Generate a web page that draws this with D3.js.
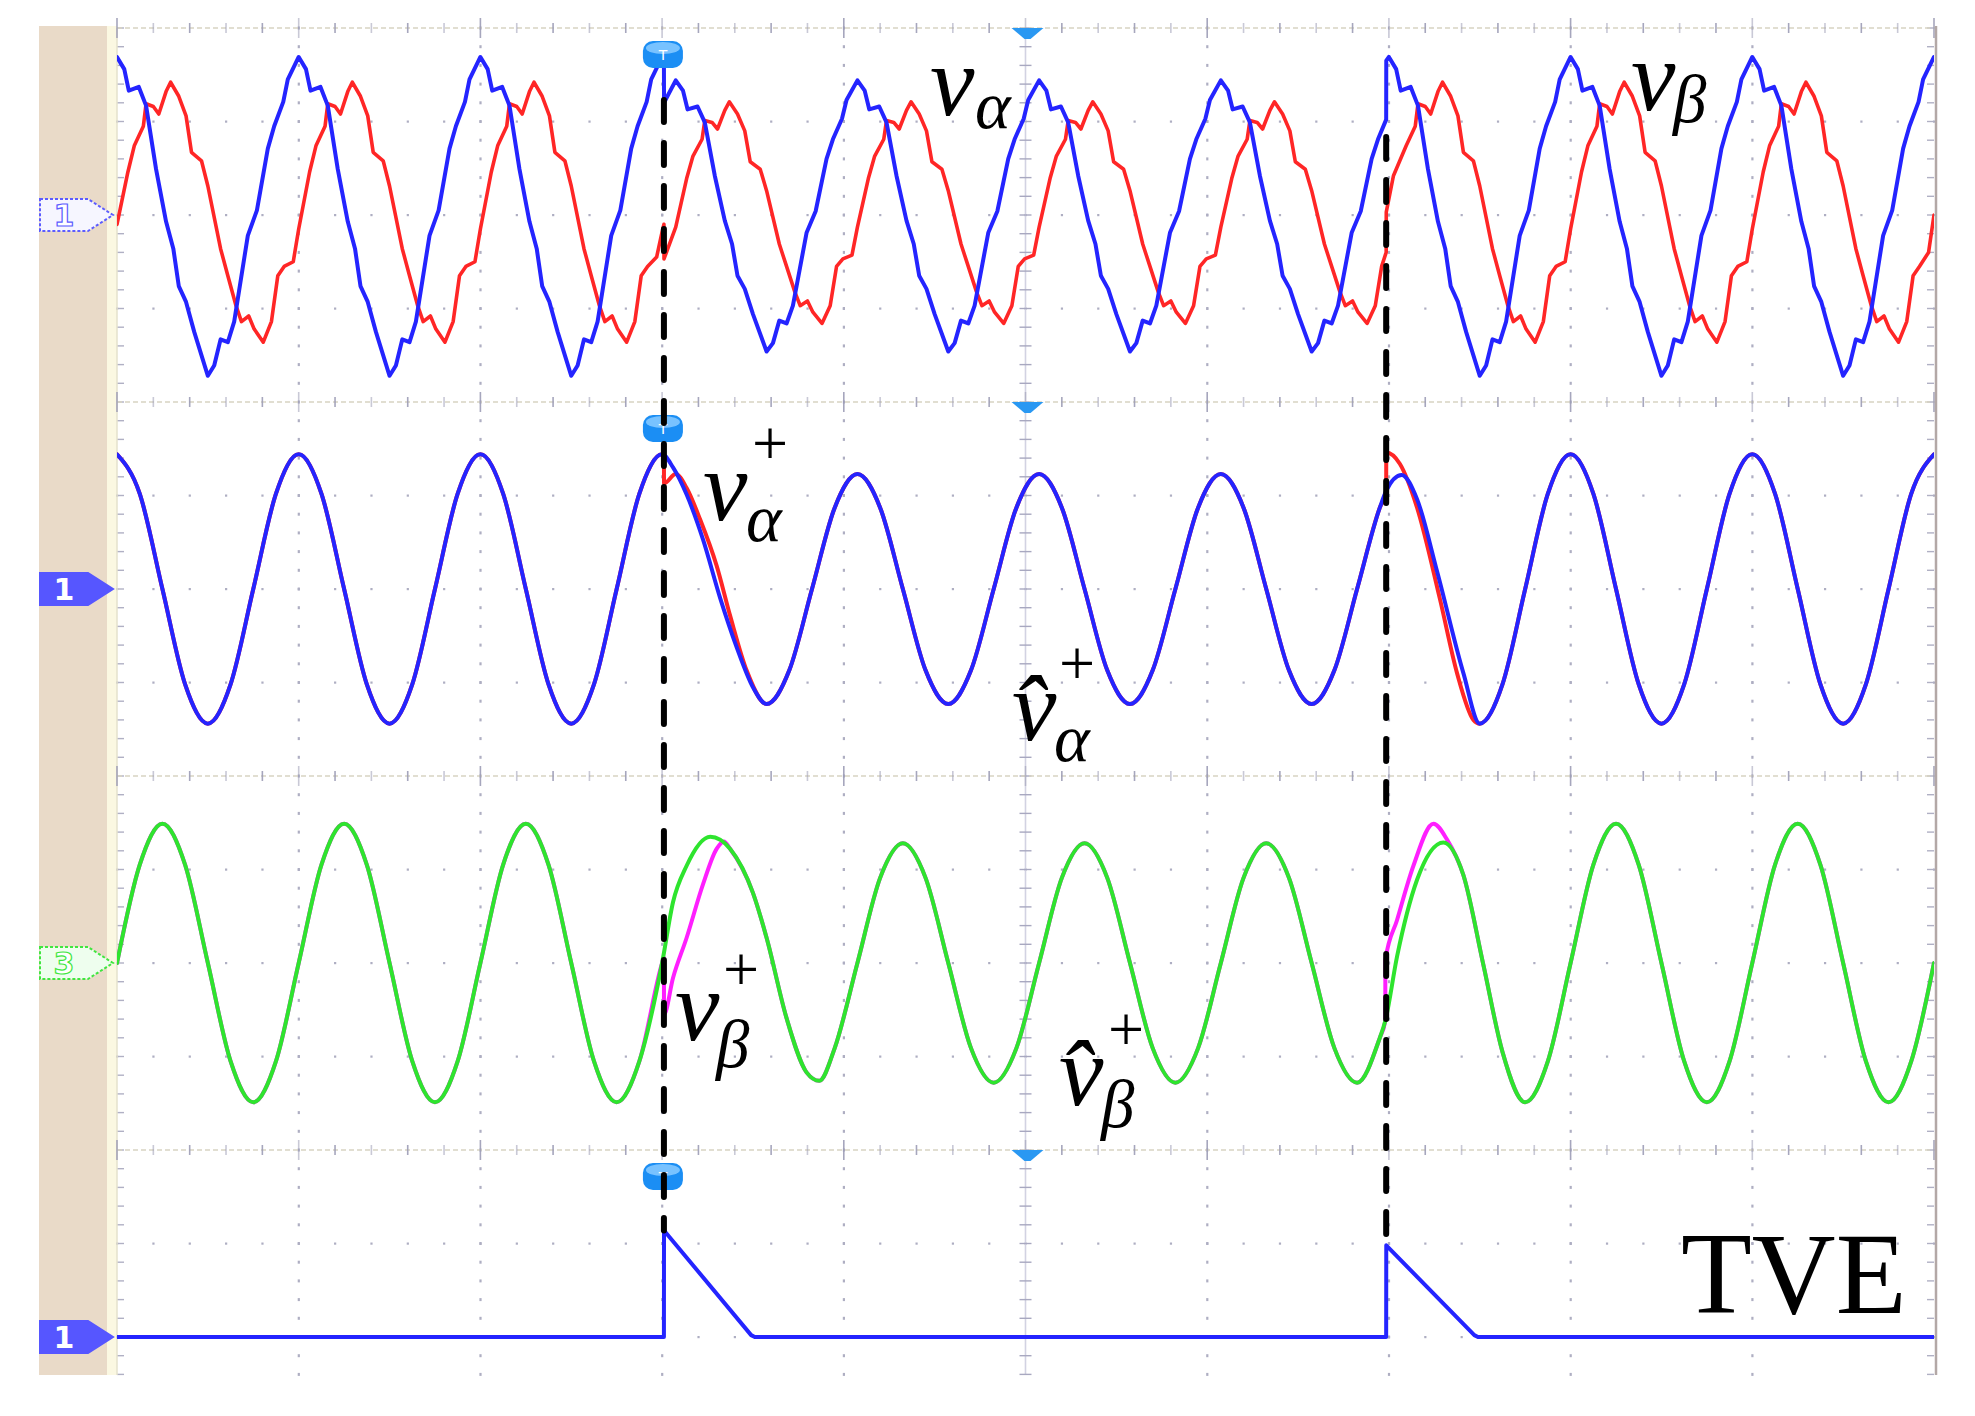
<!DOCTYPE html>
<html><head><meta charset="utf-8">
<script src="https://cdn.jsdelivr.net/npm/d3@7"></script>
<style>html,body{margin:0;padding:0;background:#fff;}svg{display:block;}</style>
</head><body>
<svg id="chart" width="1975" height="1416"></svg>
<script>
// ---------- DATA (time in ms, 20 ms per division; values in divisions) ----------
const timeDomain = [0, 200];
const eventTimes = [60.2, 139.7];

// Top screen: measured v_alpha (blue) and v_beta (red)
const vAlpha = [
[0,1.69],[0.8,1.56],[1.3,1.33],[2.4,1.37],[3.2,1.17],[4.3,0.49],[5.4,-0.07],[6.2,-0.36],[6.8,-0.76],[7.6,-0.93],[8.5,-1.25],[10,-1.72],[10.7,-1.61],[11.4,-1.33],[12.2,-1.36],[12.9,-1.14],[14.4,-0.22],[15.4,0.05],[16.6,0.71],[17.3,0.95],[18.3,1.21],[18.8,1.45],
[20,1.69],[20.8,1.56],[21.3,1.33],[22.4,1.37],[23.2,1.17],[24.3,0.49],[25.4,-0.07],[26.2,-0.36],[26.8,-0.76],[27.6,-0.93],[28.5,-1.25],[30,-1.72],[30.7,-1.61],[31.4,-1.33],[32.2,-1.36],[32.9,-1.14],[34.4,-0.22],[35.4,0.05],[36.6,0.71],[37.3,0.95],[38.3,1.21],[38.8,1.45],
[40,1.69],[40.8,1.56],[41.3,1.33],[42.4,1.37],[43.2,1.17],[44.3,0.49],[45.4,-0.07],[46.2,-0.36],[46.8,-0.76],[47.6,-0.93],[48.5,-1.25],[50,-1.72],[50.7,-1.61],[51.4,-1.33],[52.2,-1.36],[52.9,-1.14],[54.4,-0.22],[55.4,0.05],[56.6,0.71],[57.3,0.95],[58.3,1.21],[58.8,1.45],
[60,1.69],[60.2,1.66],[60.21,1.20],
[61.5,1.44],[62.3,1.33],[62.8,1.13],[63.9,1.16],[64.7,0.99],[65.8,0.42],[66.9,-0.06],[67.7,-0.31],[68.3,-0.65],[69.1,-0.79],[70,-1.06],[71.5,-1.46],[72.2,-1.37],[72.9,-1.13],[73.7,-1.16],[74.4,-0.97],[75.9,-0.19],[76.9,0.04],[78.1,0.60],[78.8,0.81],[79.8,1.03],[80.3,1.23],
[81.5,1.44],[82.3,1.33],[82.8,1.13],[83.9,1.16],[84.7,0.99],[85.8,0.42],[86.9,-0.06],[87.7,-0.31],[88.3,-0.65],[89.1,-0.79],[90,-1.06],[91.5,-1.46],[92.2,-1.37],[92.9,-1.13],[93.7,-1.16],[94.4,-0.97],[95.9,-0.19],[96.9,0.04],[98.1,0.60],[98.8,0.81],[99.8,1.03],[100.3,1.23],
[101.5,1.44],[102.3,1.33],[102.8,1.13],[103.9,1.16],[104.7,0.99],[105.8,0.42],[106.9,-0.06],[107.7,-0.31],[108.3,-0.65],[109.1,-0.79],[110,-1.06],[111.5,-1.46],[112.2,-1.37],[112.9,-1.13],[113.7,-1.16],[114.4,-0.97],[115.9,-0.19],[116.9,0.04],[118.1,0.60],[118.8,0.81],[119.8,1.03],[120.3,1.23],
[121.5,1.44],[122.3,1.33],[122.8,1.13],[123.9,1.16],[124.7,0.99],[125.8,0.42],[126.9,-0.06],[127.7,-0.31],[128.3,-0.65],[129.1,-0.79],[130,-1.06],[131.5,-1.46],[132.2,-1.37],[132.9,-1.13],[133.7,-1.16],[134.4,-0.97],[135.9,-0.19],[136.9,0.04],[138.1,0.60],[138.8,0.81],[139.7,1.02],
[139.71,1.65],
[140,1.69],[140.8,1.56],[141.3,1.33],[142.4,1.37],[143.2,1.17],[144.3,0.49],[145.4,-0.07],[146.2,-0.36],[146.8,-0.76],[147.6,-0.93],[148.5,-1.25],[150,-1.72],[150.7,-1.61],[151.4,-1.33],[152.2,-1.36],[152.9,-1.14],[154.4,-0.22],[155.4,0.05],[156.6,0.71],[157.3,0.95],[158.3,1.21],[158.8,1.45],
[160,1.69],[160.8,1.56],[161.3,1.33],[162.4,1.37],[163.2,1.17],[164.3,0.49],[165.4,-0.07],[166.2,-0.36],[166.8,-0.76],[167.6,-0.93],[168.5,-1.25],[170,-1.72],[170.7,-1.61],[171.4,-1.33],[172.2,-1.36],[172.9,-1.14],[174.4,-0.22],[175.4,0.05],[176.6,0.71],[177.3,0.95],[178.3,1.21],[178.8,1.45],
[180,1.69],[180.8,1.56],[181.3,1.33],[182.4,1.37],[183.2,1.17],[184.3,0.49],[185.4,-0.07],[186.2,-0.36],[186.8,-0.76],[187.6,-0.93],[188.5,-1.25],[190,-1.72],[190.7,-1.61],[191.4,-1.33],[192.2,-1.36],[192.9,-1.14],[194.4,-0.22],[195.4,0.05],[196.6,0.71],[197.3,0.95],[198.3,1.21],[198.8,1.45],[200,1.69]
];

const vBeta = [
[0,-0.1],[1.2,0.46],[1.9,0.74],[2.9,0.95],[3.2,1.19],[4,1.16],[4.6,1.08],[5.4,1.32],[5.9,1.42],[6.8,1.27],[7.6,1.06],[8.2,0.67],[9.3,0.58],[10,0.31],[11.4,-0.36],[12.2,-0.65],[13.1,-0.97],[13.7,-1.14],[14.5,-1.08],[15.1,-1.22],[16.1,-1.36],[17,-1.14],[17.7,-0.65],[18.4,-0.55],[19.4,-0.50],
[20,-0.15],[21.2,0.46],[21.9,0.74],[22.9,0.95],[23.2,1.19],[24,1.16],[24.6,1.08],[25.4,1.32],[25.9,1.42],[26.8,1.27],[27.6,1.06],[28.2,0.67],[29.3,0.58],[30,0.31],[31.4,-0.36],[32.2,-0.65],[33.1,-0.97],[33.7,-1.14],[34.5,-1.08],[35.1,-1.22],[36.1,-1.36],[37,-1.14],[37.7,-0.65],[38.4,-0.55],[39.4,-0.50],
[40,-0.15],[41.2,0.46],[41.9,0.74],[42.9,0.95],[43.2,1.19],[44,1.16],[44.6,1.08],[45.4,1.32],[45.9,1.42],[46.8,1.27],[47.6,1.06],[48.2,0.67],[49.3,0.58],[50,0.31],[51.4,-0.36],[52.2,-0.65],[53.1,-0.97],[53.7,-1.14],[54.5,-1.08],[55.1,-1.22],[56.1,-1.36],[57,-1.14],[57.7,-0.65],[58.4,-0.55],[59.4,-0.45],
[60,-0.18],[60.2,-0.10],[60.21,-0.47],
[61.5,-0.13],[62.7,0.39],[63.4,0.63],[64.4,0.81],[64.7,1.01],[65.5,0.99],[66.1,0.92],[66.9,1.12],[67.4,1.21],[68.3,1.08],[69.1,0.90],[69.7,0.57],[70.8,0.49],[71.5,0.26],[72.9,-0.31],[73.7,-0.55],[74.6,-0.82],[75.2,-0.97],[76,-0.92],[76.6,-1.04],[77.6,-1.16],[78.5,-0.97],[79.2,-0.55],[79.9,-0.47],[80.9,-0.43],
[81.5,-0.13],[82.7,0.39],[83.4,0.63],[84.4,0.81],[84.7,1.01],[85.5,0.99],[86.1,0.92],[86.9,1.12],[87.4,1.21],[88.3,1.08],[89.1,0.90],[89.7,0.57],[90.8,0.49],[91.5,0.26],[92.9,-0.31],[93.7,-0.55],[94.6,-0.82],[95.2,-0.97],[96,-0.92],[96.6,-1.04],[97.6,-1.16],[98.5,-0.97],[99.2,-0.55],[99.9,-0.47],[100.9,-0.43],
[101.5,-0.13],[102.7,0.39],[103.4,0.63],[104.4,0.81],[104.7,1.01],[105.5,0.99],[106.1,0.92],[106.9,1.12],[107.4,1.21],[108.3,1.08],[109.1,0.90],[109.7,0.57],[110.8,0.49],[111.5,0.26],[112.9,-0.31],[113.7,-0.55],[114.6,-0.82],[115.2,-0.97],[116,-0.92],[116.6,-1.04],[117.6,-1.16],[118.5,-0.97],[119.2,-0.55],[119.9,-0.47],[120.9,-0.43],
[121.5,-0.13],[122.7,0.39],[123.4,0.63],[124.4,0.81],[124.7,1.01],[125.5,0.99],[126.1,0.92],[126.9,1.12],[127.4,1.21],[128.3,1.08],[129.1,0.90],[129.7,0.57],[130.8,0.49],[131.5,0.26],[132.9,-0.31],[133.7,-0.55],[134.6,-0.82],[135.2,-0.97],[136,-0.92],[136.6,-1.04],[137.6,-1.16],[138.5,-0.97],[139.2,-0.55],[139.7,-0.40],
[139.71,0.03],[140.5,0.42],[141.2,0.58],[141.9,0.74],[142.9,0.95],[143.2,1.19],[144,1.16],[144.6,1.08],[145.4,1.32],[145.9,1.42],[146.8,1.27],[147.6,1.06],[148.2,0.67],[149.3,0.58],[150,0.31],[151.4,-0.36],[152.2,-0.65],[153.1,-0.97],[153.7,-1.14],[154.5,-1.08],[155.1,-1.22],[156.1,-1.36],[157,-1.14],[157.7,-0.65],[158.4,-0.55],[159.4,-0.50],
[160,-0.15],[161.2,0.46],[161.9,0.74],[162.9,0.95],[163.2,1.19],[164,1.16],[164.6,1.08],[165.4,1.32],[165.9,1.42],[166.8,1.27],[167.6,1.06],[168.2,0.67],[169.3,0.58],[170,0.31],[171.4,-0.36],[172.2,-0.65],[173.1,-0.97],[173.7,-1.14],[174.5,-1.08],[175.1,-1.22],[176.1,-1.36],[177,-1.14],[177.7,-0.65],[178.4,-0.55],[179.4,-0.50],
[180,-0.15],[181.2,0.46],[181.9,0.74],[182.9,0.95],[183.2,1.19],[184,1.16],[184.6,1.08],[185.4,1.32],[185.9,1.42],[186.8,1.27],[187.6,1.06],[188.2,0.67],[189.3,0.58],[190,0.31],[191.4,-0.36],[192.2,-0.65],[193.1,-0.97],[193.7,-1.14],[194.5,-1.08],[195.1,-1.22],[196.1,-1.36],[197,-1.14],[197.7,-0.65],[198.4,-0.55],[199.4,-0.40],[200,0.0]
];

// Second screen: positive-sequence alpha component, reference (red) and estimate (blue)
const vAlphaPos = [
[0,1.44],[2.5,1.02],[5,0],[7.5,-1.02],[10,-1.44],[12.5,-1.02],[15,0],[17.5,1.02],
[20,1.44],[22.5,1.02],[25,0],[27.5,-1.02],[30,-1.44],[32.5,-1.02],[35,0],[37.5,1.02],
[40,1.44],[42.5,1.02],[45,0],[47.5,-1.02],[50,-1.44],[52.5,-1.02],[55,0],[57.5,1.02],
[60,1.44],[60.2,1.43],[60.21,1.13],[61.5,1.23],[62.7,1.08],[64.2,0.74],[66,0.25],[67.5,-0.29],[69.3,-0.87],[71.5,-1.23],
[74,-0.87],[76.5,0],[79,0.87],
[81.5,1.23],[84,0.87],[86.5,0],[89,-0.87],[91.5,-1.23],[94,-0.87],[96.5,0],[99,0.87],
[101.5,1.23],[104,0.87],[106.5,0],[109,-0.87],[111.5,-1.23],[114,-0.87],[116.5,0],[119,0.87],
[121.5,1.23],[124,0.87],[126.5,0],[129,-0.87],[131.5,-1.23],[134,-0.87],[136.5,0],[139,0.87],
[139.7,1.04],[139.71,1.46],[141.2,1.34],[143.1,0.87],[145.6,-0.10],[147.5,-0.90],[149.3,-1.40],[150,-1.44],
[152.5,-1.02],[155,0],[157.5,1.02],
[160,1.44],[162.5,1.02],[165,0],[167.5,-1.02],[170,-1.44],[172.5,-1.02],[175,0],[177.5,1.02],
[180,1.44],[182.5,1.02],[185,0],[187.5,-1.02],[190,-1.44],[192.5,-1.02],[195,0],[197.5,1.02],[200,1.44]
];
const vAlphaPosHat = [
[0,1.44],[2.5,1.02],[5,0],[7.5,-1.02],[10,-1.44],[12.5,-1.02],[15,0],[17.5,1.02],
[20,1.44],[22.5,1.02],[25,0],[27.5,-1.02],[30,-1.44],[32.5,-1.02],[35,0],[37.5,1.02],
[40,1.44],[42.5,1.02],[45,0],[47.5,-1.02],[50,-1.44],[52.5,-1.02],[55,0],[57.5,1.02],
[60,1.44],[61.2,1.30],[62.7,1.01],[64.5,0.53],[66.4,-0.10],[68.2,-0.62],[70,-1.05],[71.5,-1.23],
[74,-0.87],[76.5,0],[79,0.87],
[81.5,1.23],[84,0.87],[86.5,0],[89,-0.87],[91.5,-1.23],[94,-0.87],[96.5,0],[99,0.87],
[101.5,1.23],[104,0.87],[106.5,0],[109,-0.87],[111.5,-1.23],[114,-0.87],[116.5,0],[119,0.87],
[121.5,1.23],[124,0.87],[126.5,0],[129,-0.87],[131.5,-1.23],[134,-0.87],[136.5,0],[139,0.87],
[139.7,1.05],[141.4,1.22],[143.1,0.96],[145.3,0.19],[148.2,-0.90],[150,-1.44],
[152.5,-1.02],[155,0],[157.5,1.02],
[160,1.44],[162.5,1.02],[165,0],[167.5,-1.02],[170,-1.44],[172.5,-1.02],[175,0],[177.5,1.02],
[180,1.44],[182.5,1.02],[185,0],[187.5,-1.02],[190,-1.44],[192.5,-1.02],[195,0],[197.5,1.02],[200,1.44]
];

// Third screen: positive-sequence beta component, reference (magenta) and estimate (green)
const vBetaPos = [
[0,0],[2.5,1.05],[5,1.49],[7.5,1.05],[10,0],[12.5,-1.05],[15,-1.49],[17.5,-1.05],
[20,0],[22.5,1.05],[25,1.49],[27.5,1.05],[30,0],[32.5,-1.05],[35,-1.49],[37.5,-1.05],
[40,0],[42.5,1.05],[45,1.49],[47.5,1.05],[50,0],[52.5,-1.05],[55,-1.49],[57.5,-1.05],
[60,0],[60.2,0.06],[60.21,-0.55],[61.2,-0.16],[62.7,0.27],[64.5,0.84],[66,1.22],[66.8,1.30],[67.5,1.22],[70,0.75],[71.5,0.27],[73.7,-0.59],[75.9,-1.17],[77.3,-1.26],
[79,-0.91],[81.5,0],[84,0.91],[86.5,1.28],[89,0.91],[91.5,0],[94,-0.91],[96.5,-1.28],[99,-0.91],
[101.5,0],[104,0.91],[106.5,1.28],[109,0.91],[111.5,0],[114,-0.91],[116.5,-1.28],[119,-0.91],
[121.5,0],[124,0.91],[126.5,1.28],[129,0.91],[131.5,0],[134,-0.91],[136.5,-1.28],[139,-0.80],
[139.6,-0.62],[139.61,0.03],[140.9,0.46],[142.7,1.04],[144.9,1.49],[146.4,1.32],[148.2,0.94],[150.4,-0.02],[152.5,-0.95],[155,-1.49],[157.5,-1.05],
[160,0],[162.5,1.05],[165,1.49],[167.5,1.05],[170,0],[172.5,-1.05],[175,-1.49],[177.5,-1.05],
[180,0],[182.5,1.05],[185,1.49],[187.5,1.05],[190,0],[192.5,-1.05],[195,-1.49],[197.5,-1.05],[200,0]
];
const vBetaPosHat = [
[0,0],[2.5,1.05],[5,1.49],[7.5,1.05],[10,0],[12.5,-1.05],[15,-1.49],[17.5,-1.05],
[20,0],[22.5,1.05],[25,1.49],[27.5,1.05],[30,0],[32.5,-1.05],[35,-1.49],[37.5,-1.05],
[40,0],[42.5,1.05],[45,1.49],[47.5,1.05],[50,0],[52.5,-1.05],[55,-1.49],[57.5,-1.05],
[60,0],[61.2,0.65],[62.7,1.04],[65.3,1.35],[67.5,1.22],[70,0.75],[71.5,0.27],[73.7,-0.59],[75.9,-1.17],[77.3,-1.26],
[79,-0.91],[81.5,0],[84,0.91],[86.5,1.28],[89,0.91],[91.5,0],[94,-0.91],[96.5,-1.28],[99,-0.91],
[101.5,0],[104,0.91],[106.5,1.28],[109,0.91],[111.5,0],[114,-0.91],[116.5,-1.28],[119,-0.91],
[121.5,0],[124,0.91],[126.5,1.28],[129,0.91],[131.5,0],[134,-0.91],[136.5,-1.28],[139,-0.80],
[139.6,-0.62],[140.9,0.07],[143.1,0.89],[146,1.29],[148.2,0.94],[150.4,-0.02],[152.5,-0.95],[155,-1.49],[157.5,-1.05],
[160,0],[162.5,1.05],[165,1.49],[167.5,1.05],[170,0],[172.5,-1.05],[175,-1.49],[177.5,-1.05],
[180,0],[182.5,1.05],[185,1.49],[187.5,1.05],[190,0],[192.5,-1.05],[195,-1.49],[197.5,-1.05],[200,0]
];

// Fourth screen: total vector error
const tve = [[0,0],[60.2,0],[60.21,1.14],[69.8,0.02],[70.2,0],[139.7,0],[139.71,0.98],[149.4,0.02],[149.8,0],[200,0]];
const tvePeaks = [1.14, 0.98];

// ---------- LAYOUT ----------
const svg = d3.select('#chart');
const PX0 = 117, PX1 = 1934, TOP = 28, BOTTOM = 1375, DIV = 93.5;
const x = d3.scaleLinear().domain(timeDomain).range([PX0, PX1]);
const panelZero = [215, 589, 963, 1337];
const yS = panelZero.map(z => d3.scaleLinear().domain([-2, 2]).range([z + 2 * DIV, z - 2 * DIV]));

svg.append('rect').attr('x', 39).attr('y', 26).attr('width', 68).attr('height', BOTTOM - 26).attr('fill', '#e9dac8');
svg.append('rect').attr('x', 107).attr('y', 26).attr('width', 10).attr('height', BOTTOM - 26).attr('fill', '#fbf8e2');

// grid
const g = svg.append('g');
const minorT = d3.range(0, 200.01, 4);
const majorT = d3.range(20, 199, 20);
const gy = k => TOP + k * DIV;
const dotCol = '#aeaec2';
d3.range(1, 15).filter(k => k % 4 !== 0).forEach(k => {
  minorT.forEach(t => g.append('rect').attr('x', x(t) - 1).attr('y', gy(k) - 1).attr('width', 2.2).attr('height', 2.2).attr('fill', dotCol));
});
const subY = d3.range(TOP, BOTTOM, DIV / 5);
majorT.filter(t => t !== 100).forEach(t => {
  subY.forEach(yy => g.append('rect').attr('x', x(t) - 1).attr('y', yy - 1.5).attr('width', 2.2).attr('height', 3).attr('fill', dotCol));
});
g.append('line').attr('x1', x(100)).attr('x2', x(100)).attr('y1', TOP).attr('y2', BOTTOM).attr('stroke', '#d2d2e2').attr('stroke-width', 1.6);
subY.forEach(yy => g.append('line').attr('x1', x(100) - 6).attr('x2', x(100) + 6).attr('y1', yy).attr('y2', yy).attr('stroke', '#a8a8c0').attr('stroke-width', 1.4));
subY.forEach(yy => {
  g.append('line').attr('x1', x(0)).attr('x2', x(0) + 7).attr('y1', yy).attr('y2', yy).attr('stroke', '#b0b0c4').attr('stroke-width', 1.4);
  g.append('line').attr('x1', x(200) - 7).attr('x2', x(200)).attr('y1', yy).attr('y2', yy).attr('stroke', '#b0b0c4').attr('stroke-width', 1.4);
});
g.append('line').attr('x1', x(0)).attr('x2', x(0)).attr('y1', TOP).attr('y2', BOTTOM).attr('stroke', '#e4e2cc').attr('stroke-width', 1.5);
[0, 4, 8, 12].forEach(k => {
  g.append('line').attr('x1', x(0)).attr('x2', x(200) + 3).attr('y1', gy(k)).attr('y2', gy(k)).attr('stroke', '#d8d4c2').attr('stroke-width', 1.6).attr('stroke-dasharray', '5,3');
  minorT.forEach((t, i) => {
    const h = (i % 5 === 0) ? 10 : 5;
    g.append('line').attr('x1', x(t)).attr('x2', x(t)).attr('y1', gy(k) - h).attr('y2', gy(k) + h).attr('stroke', '#9d9db6').attr('stroke-width', 1.6).attr('opacity', i % 2 ? 0.55 : 0.9);
  });
});
svg.append('line').attr('x1', 1936).attr('x2', 1936).attr('y1', 26).attr('y2', BOTTOM).attr('stroke', '#b3a8a6').attr('stroke-width', 2.5);

// ---------- TRACES ----------
svg.append('clipPath').attr('id', 'clip').append('rect').attr('x', PX0).attr('y', TOP - 10).attr('width', PX1 - PX0).attr('height', BOTTOM - TOP + 10);
const tr = svg.append('g').attr('clip-path', 'url(#clip)').attr('fill', 'none').attr('stroke-linejoin', 'round').attr('stroke-linecap', 'round');
const lin = ys => d3.line().x(d => x(d[0])).y(d => ys(d[1]));
const smooth = ys => d3.line().x(d => x(d[0])).y(d => ys(d[1])).curve(d3.curveMonotoneX);
const BLUE = '#2424ff', RED = '#ff2626', GREEN = '#2ee42e', MAG = '#ff1fff';
tr.append('path').attr('d', lin(yS[0])(vBeta)).attr('stroke', RED).attr('stroke-width', 3.6);
tr.append('path').attr('d', lin(yS[0])(vAlpha)).attr('stroke', BLUE).attr('stroke-width', 4);
tr.append('path').attr('d', smooth(yS[1])(vAlphaPos)).attr('stroke', RED).attr('stroke-width', 4);
tr.append('path').attr('d', smooth(yS[1])(vAlphaPosHat)).attr('stroke', BLUE).attr('stroke-width', 4);
tr.append('path').attr('d', smooth(yS[2])(vBetaPos)).attr('stroke', MAG).attr('stroke-width', 4);
tr.append('path').attr('d', smooth(yS[2])(vBetaPosHat)).attr('stroke', GREEN).attr('stroke-width', 4);
tr.append('path').attr('d', lin(yS[3])(tve)).attr('stroke', BLUE).attr('stroke-width', 4);

// ---------- MARKERS ----------
const mk = svg.append('g');
[0, 4, 12].forEach(k => {
  const cx = x(eventTimes[0]) - 1, cy = gy(k) + 26;
  mk.append('rect').attr('x', cx - 20).attr('y', cy - 13).attr('width', 40).attr('height', 27).attr('rx', 10).attr('fill', '#1b8ef4');
  mk.append('ellipse').attr('cx', cx).attr('cy', cy - 6).attr('rx', 17).attr('ry', 6).attr('fill', '#78c2ff');
  mk.append('text').attr('x', cx).attr('y', cy + 6).attr('text-anchor', 'middle').attr('font-family', 'DejaVu Sans').attr('font-size', 14).attr('fill', '#fff').text('T');
});
[0, 4, 12].forEach(k => {
  mk.append('path').attr('transform', `translate(${x(100) + 2},${gy(k)})`).attr('d', 'M-16,0 L16,0 L3,11 L-3,11 Z').attr('fill', '#2a98f2');
});
const chans = [
  {label: '1', fill: '#f6f6ff', stroke: '#5c5cff', text: '#ffffff', dash: '3,2'},
  {label: '1', fill: '#5656ff', stroke: '#5656ff', text: '#ffffff', dash: null},
  {label: '3', fill: '#eefeee', stroke: '#3fe63f', text: '#ffffff', dash: '3,2'},
  {label: '1', fill: '#5656ff', stroke: '#5656ff', text: '#ffffff', dash: null}
];
chans.forEach((c, i) => {
  const cy = yS[i](0);
  mk.append('path').attr('d', `M40,${cy - 16} L88,${cy - 16} L113,${cy} L88,${cy + 16} L40,${cy + 16} Z`)
    .attr('fill', c.fill).attr('stroke', c.stroke).attr('stroke-width', 2).attr('stroke-dasharray', c.dash);
  mk.append('text').attr('x', 64).attr('y', cy + 11).attr('text-anchor', 'middle').attr('font-family', 'DejaVu Sans').attr('font-weight', 'bold')
    .attr('font-size', 30).attr('fill', c.text).attr('stroke', c.dash ? c.stroke : 'none').attr('stroke-width', 1.2).text(c.label);
});

// ---------- EVENT DASHED LINES ----------
const dashTops = [100, 137];
eventTimes.forEach((t, i) => {
  svg.append('line').attr('x1', x(t)).attr('x2', x(t)).attr('y1', dashTops[i]).attr('y2', yS[3](tvePeaks[i]))
    .attr('stroke', '#000').attr('stroke-width', 6).attr('stroke-linecap', 'round').attr('stroke-dasharray', '22,21');
});

// ---------- LABELS ----------
const lab = svg.append('g').attr('font-family', '"Liberation Serif", "Times New Roman", serif').attr('fill', '#000');
function mathLabel(parts) {
  const el = lab.append('text');
  parts.forEach(p => el.append('tspan').attr('x', p[1]).attr('y', p[2]).attr('font-size', p[3])
    .attr('font-style', p[4] ? 'italic' : 'normal').attr('text-anchor', p[5] || 'start').text(p[0]));
}
mathLabel([['v', 930, 115, 100, true], ['\u03b1', 975, 128, 68, true]]);
mathLabel([['v', 1631, 110, 100, true], ['\u03b2', 1673, 122, 67, true]]);
mathLabel([['v', 703, 520, 100, true], ['\u03b1', 746, 541, 68, true], ['+', 770, 465, 64, false, 'middle']]);
mathLabel([['v\u0302', 1012, 740, 100, true], ['\u03b1', 1054, 761, 68, true], ['+', 1077, 685, 64, false, 'middle']]);
mathLabel([['v', 675, 1040, 100, true], ['\u03b2', 716, 1067, 67, true], ['+', 741, 991, 64, false, 'middle']]);
mathLabel([['v\u0302', 1059, 1105, 100, true], ['\u03b2', 1101, 1127, 67, true], ['+', 1126, 1051, 64, false, 'middle']]);
mathLabel([['TVE', 1681, 1313, 116, false]]);
</script>
</body></html>
